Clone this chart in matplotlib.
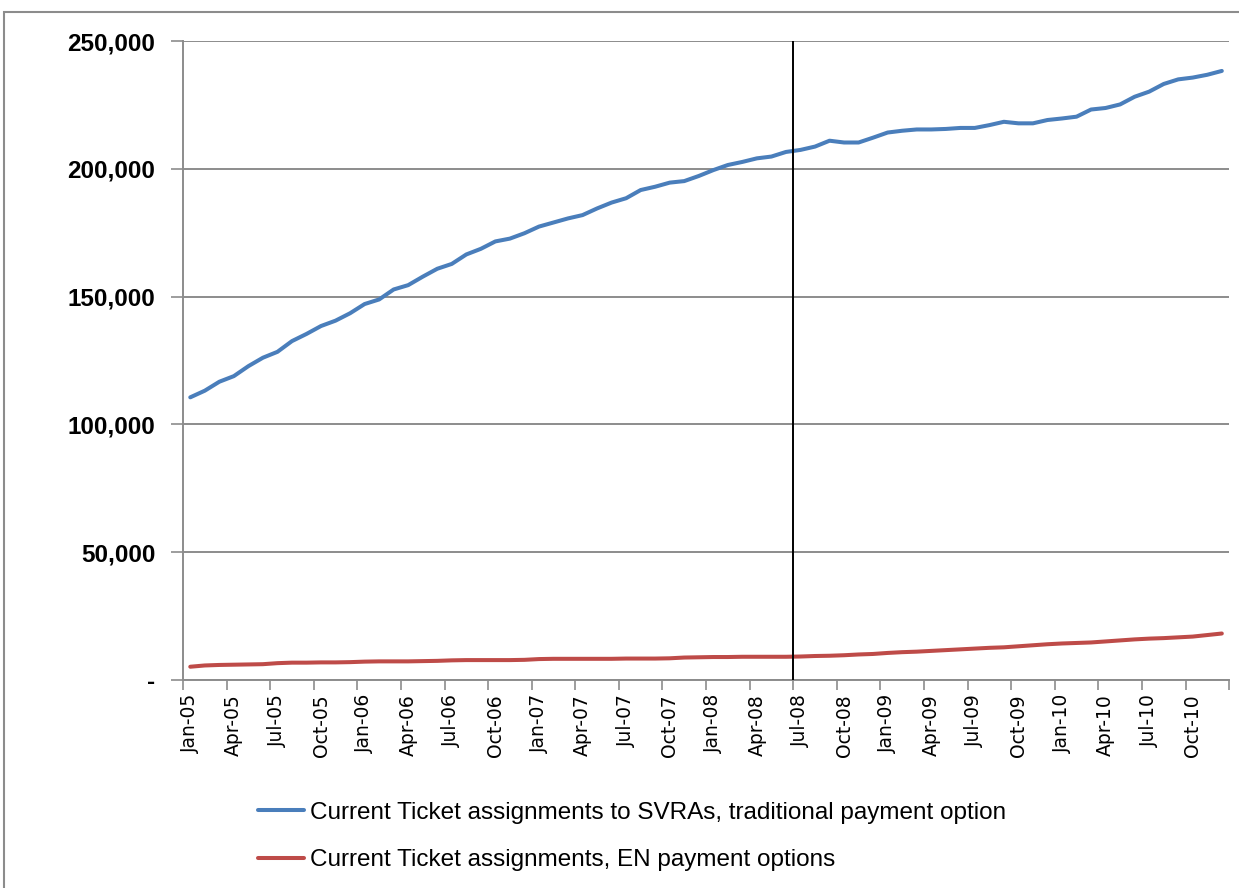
import matplotlib.pyplot as plt
import matplotlib.font_manager as fm
from matplotlib.patches import Rectangle
from matplotlib.ticker import FixedLocator, FuncFormatter, NullFormatter

# monthly ticket assignments, Jan-05 .. Dec-10 (thousands)
years = ["05", "06", "07", "08", "09", "10"]
months = ["Jan", "Feb", "Mar", "Apr", "May", "Jun",
          "Jul", "Aug", "Sep", "Oct", "Nov", "Dec"]
svra_traditional = [
    110.6, 113.2, 116.7, 118.9, 122.8, 126.1, 128.4, 132.6, 135.4, 138.5, 140.6, 143.5,
    147.1, 148.9, 152.8, 154.5, 157.8, 160.9, 162.8, 166.5, 168.7, 171.6, 172.7, 174.8,
    177.4, 179.0, 180.6, 181.9, 184.5, 186.8, 188.5, 191.7, 193.0, 194.6, 195.2, 197.2,
    199.5, 201.5, 202.7, 204.1, 204.8, 206.6, 207.4, 208.7, 211.0, 210.3, 210.3, 212.2,
    214.2, 214.9, 215.4, 215.4, 215.6, 216.0, 216.0, 217.1, 218.4, 217.8, 217.8, 219.1,
    219.7, 220.4, 223.2, 223.8, 225.2, 228.2, 230.2, 233.2, 235.0, 235.7, 236.8, 238.3,
]
en_payment = [
    5.2, 5.7, 5.9, 6.0, 6.1, 6.2, 6.6, 6.8, 6.8, 6.9, 6.9, 7.0,
    7.2, 7.3, 7.3, 7.3, 7.4, 7.5, 7.7, 7.8, 7.8, 7.8, 7.8, 7.9,
    8.2, 8.3, 8.3, 8.3, 8.3, 8.3, 8.4, 8.4, 8.4, 8.5, 8.8, 8.9,
    9.0, 9.0, 9.1, 9.1, 9.1, 9.1, 9.2, 9.4, 9.5, 9.7, 10.0, 10.2,
    10.6, 10.9, 11.1, 11.4, 11.7, 12.0, 12.3, 12.6, 12.8, 13.2, 13.6, 14.0,
    14.3, 14.5, 14.7, 15.1, 15.5, 15.9, 16.2, 16.4, 16.7, 17.0, 17.6, 18.2,
]
labels = [f"{m}-{y}" for y in years for m in months]
marker_month = "Jul-08"

names = {f.name for f in fm.fontManager.ttflist}
narrow = "Liberation Sans Narrow" if "Liberation Sans Narrow" in names else "Liberation Sans"

x = list(range(len(labels)))
blue = [v * 1000 for v in svra_traditional]
red = [v * 1000 for v in en_payment]

fig = plt.figure(figsize=(12.39, 8.88), dpi=100)
ax = fig.add_axes([0.1477, 0.2342, 0.8443, 0.7196])

ax.plot(x, blue, color="#4a7ebb", lw=2.9, solid_capstyle="round",
        label="Current Ticket assignments to SVRAs, traditional payment option")
ax.plot(x, red, color="#be4b48", lw=2.9, solid_capstyle="round",
        label="Current Ticket assignments, EN payment options")

# boundary line between Jun-08 and Jul-08
ax.axvline(labels.index(marker_month) - 0.5, color="black", lw=1.4, zorder=3)

ax.set_xlim(-0.5, len(labels) - 0.5)
ax.set_ylim(0, 250000)

grid_c = "#8c8c8c"
ax.set_yticks(range(0, 250001, 50000))
ax.yaxis.set_major_formatter(FuncFormatter(lambda v, p: "-" if v == 0 else f"{int(v):,}"))
ax.grid(axis="y", color=grid_c, lw=1.4)
ax.set_axisbelow(True)

# tick marks on quarter boundaries, labels on quarter months
ax.xaxis.set_major_locator(FixedLocator([i - 0.5 for i in range(0, len(labels) + 1, 3)]))
ax.xaxis.set_major_formatter(NullFormatter())
ax.xaxis.set_minor_locator(FixedLocator(list(range(0, len(labels), 3))))
ax.set_xticklabels([labels[i] for i in range(0, len(labels), 3)], minor=True,
                   rotation=90, fontsize=13.5, family="DejaVu Sans")
ax.tick_params(axis="x", which="major", length=7, width=1.2, color=grid_c)
ax.tick_params(axis="x", which="minor", length=0, pad=10)
ax.tick_params(axis="y", length=9, width=1.2, color=grid_c, pad=11)
for lab in ax.get_yticklabels():
    lab.set_family(narrow)
    lab.set_fontsize(17.5)
    lab.set_fontweight("bold")

for s in ["top", "right"]:
    ax.spines[s].set_visible(False)
for s in ["left", "bottom"]:
    ax.spines[s].set_color(grid_c)
    ax.spines[s].set_linewidth(1.4)

fig.legend(loc="upper left", bbox_to_anchor=(0.200, 0.108), frameon=False,
           prop={"family": narrow, "size": 17.5}, handlelength=1.9,
           handletextpad=0.25, labelspacing=1.05, borderaxespad=0)

# outer chart border
fig.patches.append(Rectangle((4 / 1239, -0.05), 1.1, 1 - 12 / 888 + 0.05,
                             transform=fig.transFigure, fill=False,
                             edgecolor="#8c8c8c", lw=1.5))

fig.savefig("out.png", dpi=100)
